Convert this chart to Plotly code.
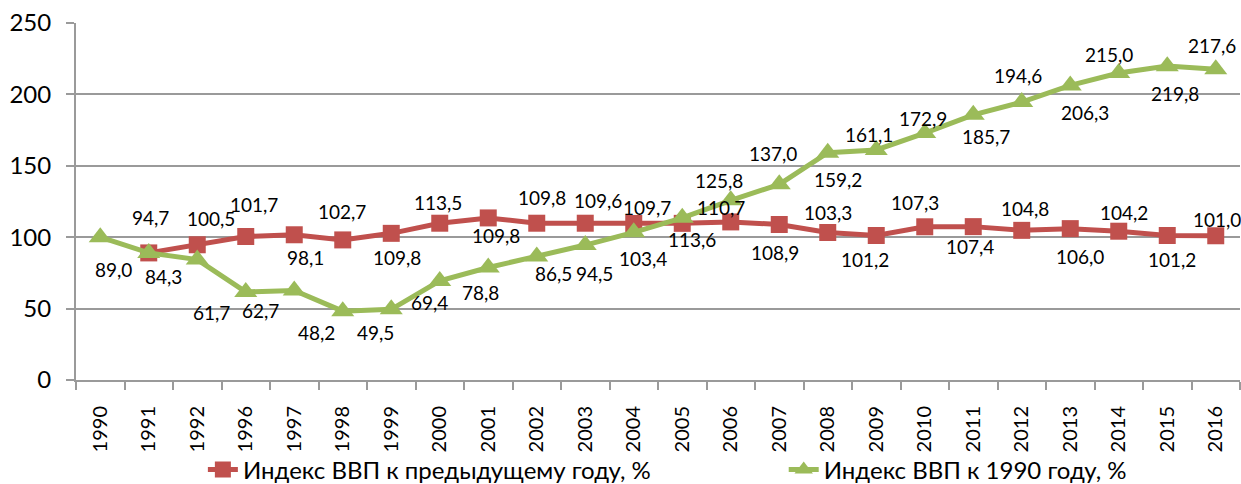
import plotly.graph_objects as go

years = ["1990", "1991", "1992", "1996", "1997", "1998", "1999", "2000", "2001", "2002",
         "2003", "2004", "2005", "2006", "2007", "2008", "2009", "2010", "2011", "2012",
         "2013", "2014", "2015", "2016"]

red_years = years[1:]
red_values = [89.0, 94.7, 100.5, 101.7, 98.1, 102.7, 109.8, 113.5, 109.8, 109.8,
              109.6, 109.7, 110.7, 108.9, 103.3, 101.2, 107.3, 107.4, 104.8, 106.0,
              104.2, 101.2, 101.0]

green_values = [100.0, 89.0, 84.3, 61.7, 62.7, 48.2, 49.5, 69.4, 78.8, 86.5,
                94.5, 103.4, 113.6, 125.8, 137.0, 159.2, 161.1, 172.9, 185.7, 194.6,
                206.3, 215.0, 219.8, 217.6]

red_name = "Индекс ВВП к предыдущему году, %"
green_name = "Индекс ВВП к 1990 году, %"

y_ticks = [0, 50, 100, 150, 200, 250]

# label offsets (pixels, right / down) relative to each point; None = no label
red_dx = [None, -47, -35, -40, -37, -49, -43, -50, -41, -43, -36, -35,
          -10, -4, 0, -11, -10, -3, 3, 10, 5, 5, 1]
red_dy = [None, -27, -18, -30, 18, -22, 34, -15, 12, -26, -23, -16,
          -14, 28, -20, 24, -24, 20, -22, 28, -19, 24, -16]
green_dx = [None, -35, -34, -34, -34, -26, -16, -10, -8, 17, 9, 9,
            10, -12, -6, 10, -7, -2, 13, -4, 15, -10, 8, -4]
green_dy = [None, 17, 17, 21, 20, 21, 23, 22, 25, 17, 28, 26,
            22, -20, -31, 27, -15, -15, 22, -27, 27, -18, 27, -24]


def fmt(v):
    return f"{v:.1f}".replace(".", ",")


RED = "#C0504D"
GREEN = "#9BBB59"
GRID = "#9a9a9a"
FONT = "Lato"

fig = go.Figure()
fig.add_trace(go.Scatter(
    x=red_years, y=red_values, name=red_name, mode="lines+markers",
    line=dict(color=RED, width=5), marker=dict(symbol="square", size=17, color=RED),
    legend="legend",
))
fig.add_trace(go.Scatter(
    x=years, y=green_values, name=green_name, mode="lines+markers",
    line=dict(color=GREEN, width=5), marker=dict(symbol="triangle-up", size=20, color=GREEN),
    legend="legend2",
))

annotations = []
for xs, vals, dxs, dys in ((red_years, red_values, red_dx, red_dy),
                           (years, green_values, green_dx, green_dy)):
    for x, v, dx, dy in zip(xs, vals, dxs, dys):
        if dx is None:
            continue
        annotations.append(dict(
            x=years.index(x), y=v, xref="x", yref="y", text=fmt(v), showarrow=False,
            xshift=dx, yshift=-dy, xanchor="center", yanchor="middle",
            font=dict(family=FONT, size=19, color="#000000"),
        ))

legend_common = dict(orientation="h", yanchor="middle", y=-0.252, xanchor="left",
                     bgcolor="rgba(0,0,0,0)", font=dict(family=FONT, size=24, color="#000000"),
                     itemwidth=30)

fig.update_layout(
    width=1241, height=484,
    margin=dict(l=76, r=1, t=23, b=104, autoexpand=False),
    paper_bgcolor="white", plot_bgcolor="white",
    font=dict(family=FONT, color="#000000"),
    showlegend=True,
    legend=dict(x=0.109, **legend_common),
    legend2=dict(x=0.608, **legend_common),
    annotations=annotations,
    xaxis=dict(type="category", categoryorder="array", categoryarray=years,
               range=[-0.5, len(years) - 0.5],
               showgrid=False, showline=True, linecolor=GRID, linewidth=2,
               ticks="outside", tickson="boundaries", ticklen=8, tickcolor=GRID,
               tickwidth=2, tickangle=-90, ticklabelstandoff=16,
               tickfont=dict(family=FONT, size=20)),
    yaxis=dict(range=[0, 250], tickvals=y_ticks, showgrid=True, gridcolor=GRID,
               gridwidth=2, zeroline=False, showline=True, linecolor=GRID,
               linewidth=2, ticks="outside", ticklen=8, tickcolor=GRID, tickwidth=2,
               ticklabelstandoff=10, tickfont=dict(family=FONT, size=24)),
)

fig.write_html("out.html", config={"displayModeBar": False},
               post_script="document.body.style.margin='0';document.body.style.overflow='hidden';")
